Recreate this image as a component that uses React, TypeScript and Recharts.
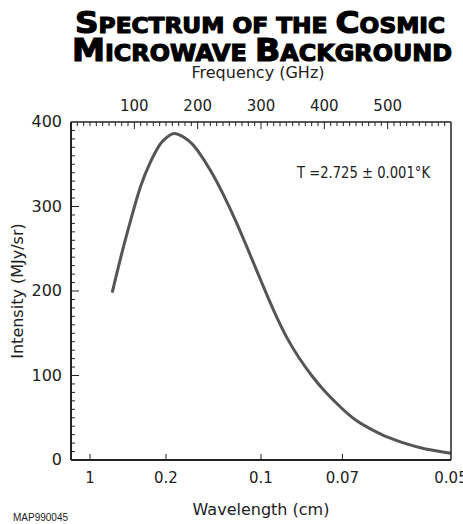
import React from 'react';
import { LineChart, Line, XAxis, YAxis } from 'recharts';

// values (frequency in GHz, intensity in MJy/sr)
const freqGHz = [65, 80, 95, 110, 125, 140, 150, 160, 170, 180, 190, 200, 220, 240, 260, 280, 300, 320, 340, 360, 380, 400, 425, 450, 475, 500, 530, 560, 600];
const intensity = [198, 244, 286, 324, 352, 373, 381, 386, 385, 381, 375, 366, 343, 315, 283, 248, 212, 177, 146, 121, 100, 82, 63, 47, 36, 27, 19, 13, 8];

const freqTicks = [10, 20, 30, 40, 50, 60, 70, 80, 90, 100, 110, 120, 130, 140, 150, 160, 170, 180, 190, 200, 210, 220, 230, 240, 250, 260, 270, 280, 290, 300, 310, 320, 330, 340, 350, 360, 370, 380, 390, 400, 410, 420, 430, 440, 450, 460, 470, 480, 490, 500, 510, 520, 530, 540, 550, 560, 570, 580, 590];
const wavelengthLabels = ['1', '0.2', '0.1', '0.07', '0.05'];
const wavelengthTicksGHz = [30, 150, 300, 3000 / 7, 600];
const intensityTicks = [0, 10, 20, 30, 40, 50, 60, 70, 80, 90, 100, 110, 120, 130, 140, 150, 160, 170, 180, 190, 200, 210, 220, 230, 240, 250, 260, 270, 280, 290, 300, 310, 320, 330, 340, 350, 360, 370, 380, 390, 400];

const data = freqGHz.map((f, i) => ({ freq: f, intensity: intensity[i] }));

const FONT = '"DejaVu Sans", sans-serif';
const INK = '#222';

const LeftTick = ({ x, y, payload }: any) => {
  const v = payload.value;
  const major = v % 100 === 0;
  return (
    <g>
      {v !== 0 && v !== 400 && (
        <line x1={x} x2={x + (major ? 8 : 4)} y1={y} y2={y} stroke={INK} strokeWidth={1} />
      )}
      {major && (
        <text x={x - 9} y={y} dy={5} textAnchor="end" fontFamily={FONT} fontSize={16} fill={INK}>
          {v}
        </text>
      )}
    </g>
  );
};

const RightTick = ({ x, y, payload }: any) => {
  const v = payload.value;
  if (v === 0 || v === 400) return <g />;
  const major = v % 100 === 0;
  return <line x1={x} x2={x - (major ? 8 : 4)} y1={y} y2={y} stroke={INK} strokeWidth={1} />;
};

const TopTick = ({ x, y, payload }: any) => {
  const v = payload.value;
  const major = v % 100 === 0;
  return (
    <g>
      <line x1={x} x2={x} y1={y} y2={y + (major ? 7 : 4)} stroke={INK} strokeWidth={1} />
      {major && (
        <text x={x} y={y - 11} textAnchor="middle" fontFamily={FONT} fontSize={15} fill={INK}>
          {v}
        </text>
      )}
    </g>
  );
};

const BottomTick = ({ x, y, index }: any) => (
  <g>
    {index < wavelengthLabels.length - 1 && (
      <line x1={x} x2={x} y1={y} y2={y - 6} stroke={INK} strokeWidth={1} />
    )}
    <text x={x} y={y + 23} textAnchor="middle" fontFamily={FONT} fontSize={15} fill={INK}>
      {wavelengthLabels[index]}
    </text>
  </g>
);

export default function App() {
  return (
    <div style={{ position: 'absolute', left: 0, top: 0, width: 463, height: 524, background: '#fff' }}>
      <LineChart width={463} height={524} data={data} margin={{ top: 82, right: 11, bottom: 0, left: 0 }}>
        <XAxis
          xAxisId="top"
          orientation="top"
          type="number"
          dataKey="freq"
          domain={[0, 600]}
          ticks={freqTicks}
          interval={0}
          height={40}
          tickSize={0}
          tickMargin={0}
          tickLine={false}
          tick={<TopTick />}
          axisLine={{ stroke: INK, strokeWidth: 1.5 }}
        />
        <XAxis
          xAxisId="bottom"
          orientation="bottom"
          type="number"
          dataKey="freq"
          domain={[0, 600]}
          ticks={wavelengthTicksGHz}
          interval={0}
          height={64}
          tickSize={0}
          tickMargin={0}
          tickLine={false}
          tick={<BottomTick />}
          axisLine={{ stroke: INK, strokeWidth: 2 }}
        />
        <YAxis
          yAxisId="left"
          orientation="left"
          type="number"
          domain={[0, 400]}
          ticks={intensityTicks}
          interval={0}
          width={71}
          tickSize={0}
          tickMargin={0}
          tickLine={false}
          tick={<LeftTick />}
          axisLine={{ stroke: INK, strokeWidth: 2 }}
        />
        <YAxis
          yAxisId="right"
          orientation="right"
          type="number"
          domain={[0, 400]}
          ticks={intensityTicks}
          interval={0}
          width={1}
          tickSize={0}
          tickMargin={0}
          tickLine={false}
          tick={<RightTick />}
          axisLine={{ stroke: INK, strokeWidth: 1.5 }}
        />
        <Line
          xAxisId="bottom"
          yAxisId="left"
          type="natural"
          dataKey="intensity"
          stroke="#555"
          strokeWidth={3}
          dot={false}
          isAnimationActive={false}
        />
      </LineChart>
      <svg width={463} height={524} style={{ position: 'absolute', left: 0, top: 0, pointerEvents: 'none' }}>
        <g fontFamily='"DejaVu Sans", sans-serif' fontWeight="bold" fill="#000" stroke="#000" strokeWidth={1.2}>
          <text x={75} y={33} textLength={370} lengthAdjust="spacingAndGlyphs">
            <tspan fontSize={31}>S</tspan>
            <tspan fontSize={22}>PECTRUM OF THE </tspan>
            <tspan fontSize={31}>C</tspan>
            <tspan fontSize={22}>OSMIC</tspan>
          </text>
          <text x={72} y={61} textLength={380} lengthAdjust="spacingAndGlyphs">
            <tspan fontSize={32}>M</tspan>
            <tspan fontSize={23}>ICROWAVE </tspan>
            <tspan fontSize={32}>B</tspan>
            <tspan fontSize={23}>ACKGROUND</tspan>
          </text>
        </g>
        <text x={258} y={78} textAnchor="middle" fontFamily={FONT} fontSize={16} fill={INK}>
          Frequency (GHz)
        </text>
        <text x={261} y={515} textAnchor="middle" fontFamily={FONT} fontSize={16} fill={INK}>
          Wavelength (cm)
        </text>
        <text
          x={23}
          y={291}
          transform="rotate(-90 23 291)"
          textAnchor="middle"
          fontFamily={FONT}
          fontSize={16}
          fill={INK}
        >
          Intensity (MJy/sr)
        </text>
        <text x={297} y={178} fontFamily={FONT} fontSize={16} fill={INK} textLength={133} lengthAdjust="spacingAndGlyphs">
          T =2.725 ± 0.001°K
        </text>
        <text x={13} y={521} fontFamily='"Liberation Sans", Arial, sans-serif' fontSize={10} fill={INK}>
          MAP990045
        </text>
      </svg>
    </div>
  );
}
